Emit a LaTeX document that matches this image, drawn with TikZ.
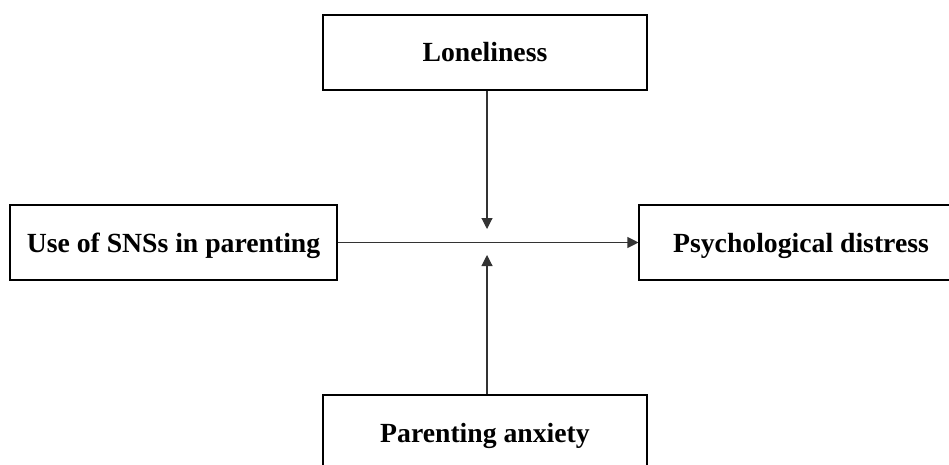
\documentclass[tikz,border=0pt]{standalone}
\usepackage{fontspec}
\setmainfont{Liberation Serif}
\usetikzlibrary{arrows.meta}
\begin{document}
\begin{tikzpicture}[x=1pt,y=-1pt,
  varbox/.style={draw=black,line width=1.1pt,minimum width=324pt,minimum height=75pt,inner sep=0pt,
    text height=22pt,text depth=3pt,
    font=\fontsize{27.7pt}{32pt}\selectfont\bfseries},
  conn/.style={draw=black!80,line width=1.1pt,-{Triangle[length=11pt,width=11pt]}}]
\useasboundingbox (0,0) rectangle (949,465);
\begin{scope}
\clip (0,0) rectangle (949,465);
\node[varbox] (lon) at (485,52.5) {Loneliness};
\node[varbox,minimum width=327pt] (use) at (173.5,242.5) {Use of SNSs in parenting};
\node[varbox] (psy) at (801,242.5) {Psychological distress};
\node[varbox] (par) at (485,432.5) {Parenting anxiety};
\coordinate (dtip) at (487,229);
\coordinate (utip) at (487,255);
\draw[conn] (use.east) -- (psy.west);
\draw[conn] (lon.south -| dtip) -- (dtip);
\draw[conn] (par.north -| utip) -- (utip);
\end{scope}
\end{tikzpicture}
\end{document}
